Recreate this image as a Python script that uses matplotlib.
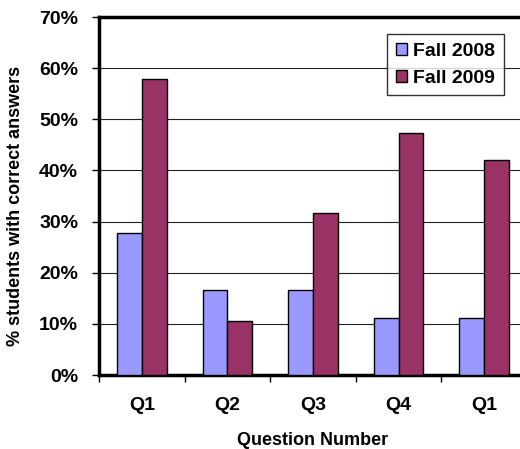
import matplotlib.pyplot as plt
import numpy as np

plt.rcParams['font.family'] = ['Liberation Sans', 'DejaVu Sans']
plt.rcParams['font.weight'] = 'bold'

# Dados
questions = ['Q1', 'Q2', 'Q3', 'Q4', 'Q1']
fall_2008 = [27.8, 16.7, 16.7, 11.1, 11.1]
fall_2009 = [57.9, 10.5, 31.6, 47.4, 42.1]

x = np.arange(len(questions))
width = 0.29

fig = plt.figure(figsize=(5.2, 4.49), dpi=100)
# eixo passa da borda direita da figura (como no original, cortado)
ax = fig.add_axes([99 / 520, 74 / 449, 428 / 520, 358 / 449])

ax.bar(x - width / 2, fall_2008, width, color='#9999FF', edgecolor='black',
       linewidth=1, label='Fall 2008', zorder=3)
ax.bar(x + width / 2, fall_2009, width, color='#993366', edgecolor='black',
       linewidth=1, label='Fall 2009', zorder=3)

ax.set_xlim(-0.5, len(questions) - 0.5)
ax.set_ylim(0, 70)

# grade horizontal
ax.set_yticks(np.arange(0, 71, 10))
ax.set_yticklabels([f'{v}%' for v in range(0, 71, 10)])
ax.yaxis.grid(True, color='#222222', linewidth=0.8, zorder=0)

# ticks nas fronteiras, rótulos no centro
ax.set_xticks(np.arange(-0.5, len(questions), 1.0))
ax.set_xticklabels([])
ax.set_xticks(x, minor=True)
ax.set_xticklabels(questions, minor=True)
ax.tick_params(axis='x', which='minor', length=0, pad=16, labelsize=14)
ax.tick_params(axis='x', which='major', length=5, width=1, direction='out')
ax.tick_params(axis='y', length=5, width=1, direction='out', pad=10, labelsize=14)

for side in ['left', 'bottom', 'top']:
    ax.spines[side].set_linewidth(2.5)
ax.spines['right'].set_visible(False)

ax.set_xlabel('Question Number', fontsize=13, fontweight='bold')
ax.xaxis.set_label_coords(0.5, -0.16)
ax.set_ylabel('% students with correct answers', fontsize=13, fontweight='bold')
ax.yaxis.set_label_coords(-0.175, 0.472)

leg = ax.legend(loc='upper right', bbox_to_anchor=(0.946, 0.9525), fontsize=14,
                frameon=True, fancybox=False, borderpad=0.45, labelspacing=0.5,
                handlelength=0.6, handleheight=0.6, handletextpad=0.3,
                borderaxespad=0)
leg.get_frame().set_edgecolor('black')
leg.get_frame().set_linewidth(1)

plt.savefig('out.png', dpi=100)
